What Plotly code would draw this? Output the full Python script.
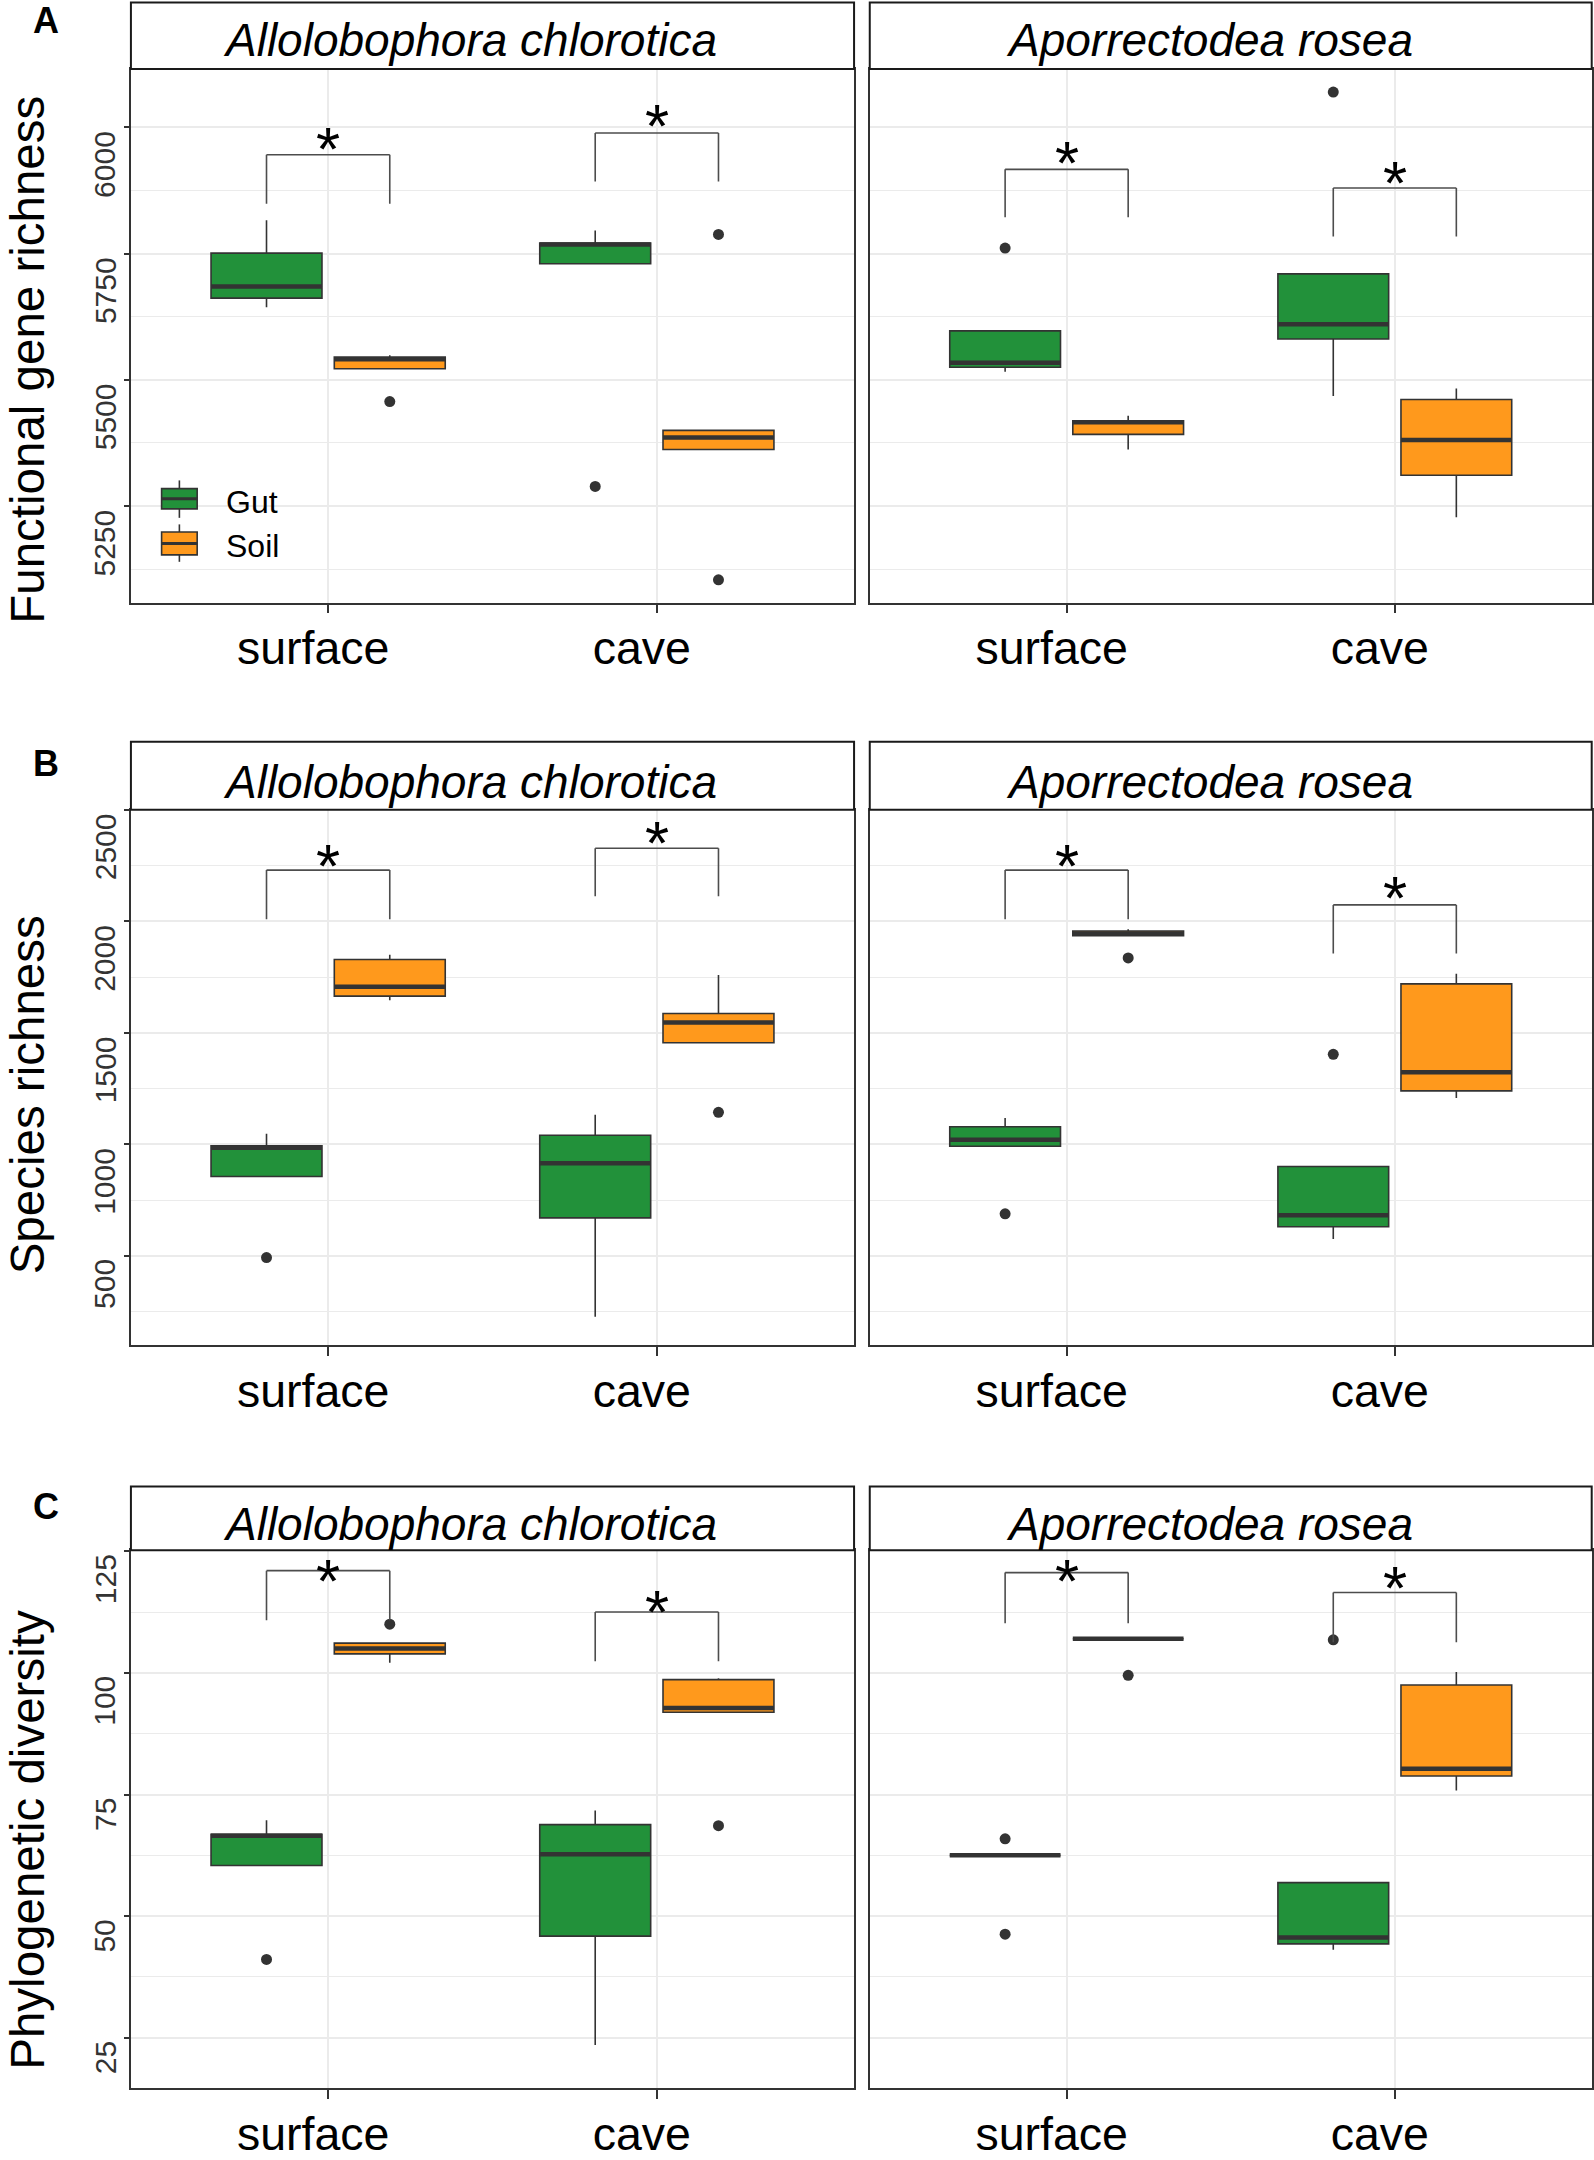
import numpy as np
import plotly.graph_objects as go

# ---------------- data (n = 5 per box) ----------------
habitats = ["surface", "cave"]
species = ["Allolobophora chlorotica", "Aporrectodea rosea"]
fractions = ["Gut", "Soil"]

# Panel A - functional gene richness
fgr_chl_gut = {"surface": [5644, 5662, 5685, 5751, 5816], "cave": [5289, 5730, 5768, 5771, 5796]}
fgr_chl_soil = {"surface": [5457, 5522, 5541, 5545, 5549], "cave": [5104, 5362, 5386, 5400, 5788]}
fgr_ros_gut = {"surface": [5516, 5525, 5534, 5597, 5761], "cave": [5468, 5581, 5610, 5710, 6070]}
fgr_ros_soil = {"surface": [5362, 5392, 5416, 5419, 5429], "cave": [5228, 5311, 5381, 5461, 5483]}

# Panel B - species richness
sr_chl_gut = {"surface": [493, 856, 985, 994, 1048], "cave": [228, 671, 916, 1041, 1133]}
sr_chl_soil = {"surface": [1647, 1665, 1707, 1829, 1850], "cave": [1144, 1456, 1547, 1587, 1760]}
sr_ros_gut = {"surface": [689, 992, 1021, 1079, 1119], "cave": [576, 631, 683, 901, 1404]}
sr_ros_soil = {"surface": [1836, 1936, 1946, 1957, 1965], "cave": [1208, 1240, 1324, 1720, 1765]}

# Panel C - phylogenetic diversity
pd_chl_gut = {"surface": [41.1, 60.4, 66.5, 66.8, 69.7], "cave": [23.5, 45.9, 62.7, 68.8, 71.7]}
pd_chl_soil = {"surface": [102.1, 103.9, 105.0, 106.1, 110.0], "cave": [68.6, 91.9, 92.8, 98.6, 98.9]}
pd_ros_gut = {"surface": [46.3, 62.5, 62.5, 62.5, 65.9], "cave": [43.1, 44.3, 45.6, 56.9, 106.8]}
pd_ros_soil = {"surface": [99.5, 107.0, 107.0, 107.0, 107.0], "cave": [75.8, 78.8, 80.3, 97.5, 100.2]}

# significance brackets (bracket top, leg end, label position) for surface, cave
sig_fgr_chl = [(5946, 5849, 5988), (5989, 5893, 6033)]
sig_fgr_ros = [(5917, 5822, 5959), (5880, 5784, 5921)]
sig_sr_chl = [(2230, 2010, 2318), (2328, 2113, 2418)]
sig_sr_ros = [(2230, 2010, 2318), (2074, 1856, 2173)]
sig_pd_chl = [(121.0, 110.8, 122.0), (112.5, 102.4, 115.7)]
sig_pd_ros = [(120.6, 110.2, 122.0), (116.5, 106.3, 120.6)]
sig_label = "*"

# axes
y_titles = ["Functional gene richness", "Species richness", "Phylogenetic diversity"]
panel_letters = ["A", "B", "C"]
y_ranges = [[5059, 6116], [101, 2500], [14.6, 125.2]]
y_ticks = [[5250, 5500, 5750, 6000], [500, 1000, 1500, 2000, 2500], [25, 50, 75, 100, 125]]
y_dticks = [250, 500, 25]

rows = [
    {"data": [{"Gut": fgr_chl_gut, "Soil": fgr_chl_soil}, {"Gut": fgr_ros_gut, "Soil": fgr_ros_soil}],
     "sig": [sig_fgr_chl, sig_fgr_ros]},
    {"data": [{"Gut": sr_chl_gut, "Soil": sr_chl_soil}, {"Gut": sr_ros_gut, "Soil": sr_ros_soil}],
     "sig": [sig_sr_chl, sig_sr_ros]},
    {"data": [{"Gut": pd_chl_gut, "Soil": pd_chl_soil}, {"Gut": pd_ros_gut, "Soil": pd_ros_soil}],
     "sig": [sig_pd_chl, sig_pd_ros]},
]

# ---------------- style / layout ----------------
FONT = "Liberation Sans"
colors = {"Gut": "#22913A", "Soil": "#FF991C"}
DARK = "#333333"
GRID = "#EBEBEB"
W, H = 1594, 2160
BOXGAP = 0.25
BOXGROUPGAP = 0.1
DODGE = (1 - BOXGAP) / 4.0
STAR_SIZE = 62

col_px = [(131.0, 854.6), (870.3, 1592.7)]
row_plot_px = [(69.4, 607.0), (815.9, 1355.0), (1561.8, 2104.0)]
row_strip_px = [(2.5, 69.4), (747.3, 815.9), (1497.7, 1561.8)]
strip_text_cx = [470.5, 1210.0]
strip_text_cy = [40.6, 787.9, 1535.5]
ytitle_cy = [362.0, 1103.0, 1853.0]
letter_cy = [21.0, 769.0, 1518.0]


def fx(p):
    return p / W


def fy(p):
    return 1 - p / H


fig = go.Figure()
layout = dict(
    width=W, height=H, margin=dict(l=0, r=0, t=0, b=0),
    paper_bgcolor="white", plot_bgcolor="white",
    boxmode="group", boxgap=BOXGAP, boxgroupgap=BOXGROUPGAP,
    showlegend=False, font=dict(family=FONT, color="black"),
)
shapes = []
annotations = []

for r, row in enumerate(rows):
    for c in range(2):
        k = r * 2 + c + 1
        sfx = "" if k == 1 else str(k)
        xa, ya = "x" + sfx, "y" + sfx
        for frac in fractions:
            d = row["data"][c][frac]
            xs, ys = [], []
            for h in habitats:
                xs += [h] * len(d[h])
                ys += d[h]
            fig.add_trace(go.Box(
                x=xs, y=ys, name=frac, offsetgroup=frac, legendgroup=frac,
                fillcolor=colors[frac], line=dict(color=DARK, width=1.6),
                marker=dict(color=DARK, size=11, line=dict(width=0)),
                boxpoints="outliers", jitter=0, pointpos=0, whiskerwidth=0,
                quartilemethod="inclusive", xaxis=xa, yaxis=ya, hoverinfo="skip",
            ))
            med = [float(np.median(d[h])) for h in habitats]
            fig.add_trace(go.Box(
                x=habitats, q1=med, median=med, q3=med, lowerfence=med, upperfence=med,
                name=frac, offsetgroup=frac, showlegend=False,
                fillcolor="rgba(0,0,0,0)", line=dict(color=DARK, width=4.5),
                whiskerwidth=0, boxpoints=False, xaxis=xa, yaxis=ya, hoverinfo="skip",
            ))
        x0, x1 = col_px[c]
        yb, yt = row_plot_px[r]
        layout["xaxis" + sfx] = dict(
            domain=[fx(x0), fx(x1)], anchor=ya, type="category",
            categoryorder="array", categoryarray=habitats, range=[-0.6, 1.6],
            showgrid=True, gridcolor=GRID, gridwidth=1.6,
            showline=True, mirror=True, linecolor=DARK, linewidth=1.8,
            ticks="outside", ticklen=9, tickwidth=1.6, tickcolor=DARK,
            ticklabelshift=-15, ticklabelstandoff=-5,
            tickfont=dict(family=FONT, size=46.5, color="black"), zeroline=False,
        )
        layout["yaxis" + sfx] = dict(
            domain=[fy(yt), fy(yb)], anchor=xa, range=y_ranges[r], autorange=False,
            tickmode="linear", tick0=0, dtick=y_dticks[r],
            showgrid=True, gridcolor=GRID, gridwidth=1.6,
            minor=dict(dtick=y_dticks[r] / 2, tick0=0, showgrid=True, gridcolor=GRID, gridwidth=1.2, ticks=""),
            showline=True, mirror=True, linecolor=DARK, linewidth=1.8,
            ticks="outside" if c == 0 else "", ticklen=5, tickwidth=1.6, tickcolor=DARK,
            showticklabels=False, zeroline=False,
        )
        # strip
        sb, st = row_strip_px[r]
        shapes.append(dict(type="rect", xref="paper", yref="paper", x0=fx(x0), x1=fx(x1),
                           y0=fy(sb), y1=fy(st), line=dict(color="#1a1a1a", width=2),
                           fillcolor="white", layer="above"))
        annotations.append(dict(text=species[c], xref="paper", yref="paper",
                                x=fx(strip_text_cx[c]), y=fy(strip_text_cy[r]),
                                xanchor="center", yanchor="middle", showarrow=False,
                                font=dict(family=FONT, size=46, style="italic", color="black")))
        # significance brackets
        for j, h in enumerate(habitats):
            top, leg, lab = row["sig"][c][j]
            xl, xr = j - DODGE, j + DODGE
            line = dict(color="#4d4d4d", width=1.6)
            shapes.append(dict(type="line", xref=xa, yref=ya, x0=xl, x1=xl, y0=leg, y1=top, line=line))
            shapes.append(dict(type="line", xref=xa, yref=ya, x0=xl, x1=xr, y0=top, y1=top, line=line))
            shapes.append(dict(type="line", xref=xa, yref=ya, x0=xr, x1=xr, y0=leg, y1=top, line=line))
            annotations.append(dict(text=sig_label, xref=xa, yref=ya, x=h, y=lab,
                                    xanchor="center", yanchor="middle", yshift=-0.2375 * STAR_SIZE,
                                    showarrow=False,
                                    font=dict(family=FONT, size=STAR_SIZE, color="black")))
        # y tick labels (rotated, hanging below the tick as in the original)
        if c == 0:
            for t in y_ticks[r]:
                annotations.append(dict(text=f"{t:g}", xref="paper", yref=ya, x=fx(105.0), y=t,
                                        xanchor="center", yanchor="top", yshift=-1, textangle=-90,
                                        showarrow=False, font=dict(family=FONT, size=30, color=DARK)))
    # y title and panel letter
    annotations.append(dict(text=y_titles[r], xref="paper", yref="paper", x=fx(27.5), y=fy(ytitle_cy[r]),
                            xanchor="center", yanchor="middle", textangle=-90, showarrow=False,
                            font=dict(family=FONT, size=47.5, color="black")))
    annotations.append(dict(text="<b>" + panel_letters[r] + "</b>", xref="paper", yref="paper",
                            x=fx(46), y=fy(letter_cy[r]), xanchor="center", yanchor="middle",
                            showarrow=False, font=dict(family=FONT, size=36, color="black")))

# legend inside panel A (left)
legend_keys = [("Gut", 484.0, 492.3, 502.5, 512.7, 521.7), ("Soil", 528.3, 536.0, 547.5, 559.0, 566.0)]
for frac, w0, b0, m, b1, w1 in legend_keys:
    kx0, kx1 = 161.7, 197.3
    kc = (kx0 + kx1) / 2
    shapes.append(dict(type="line", xref="paper", yref="paper", x0=fx(kc), x1=fx(kc), y0=fy(w0), y1=fy(w1),
                       line=dict(color=DARK, width=1.6)))
    shapes.append(dict(type="rect", xref="paper", yref="paper", x0=fx(kx0), x1=fx(kx1), y0=fy(b1), y1=fy(b0),
                       fillcolor=colors[frac], line=dict(color=DARK, width=1.6)))
    shapes.append(dict(type="line", xref="paper", yref="paper", x0=fx(kx0), x1=fx(kx1), y0=fy(m), y1=fy(m),
                       line=dict(color=DARK, width=3)))
    annotations.append(dict(text=frac, xref="paper", yref="paper", x=fx(224), y=fy(m + 3),
                            xanchor="left", yanchor="middle", showarrow=False,
                            font=dict(family=FONT, size=32, color="black")))

layout["shapes"] = shapes
layout["annotations"] = annotations
fig.update_layout(**layout)

fig.write_html("out.html", config={"displayModeBar": False},
               post_script="document.body.style.margin='0px';")
